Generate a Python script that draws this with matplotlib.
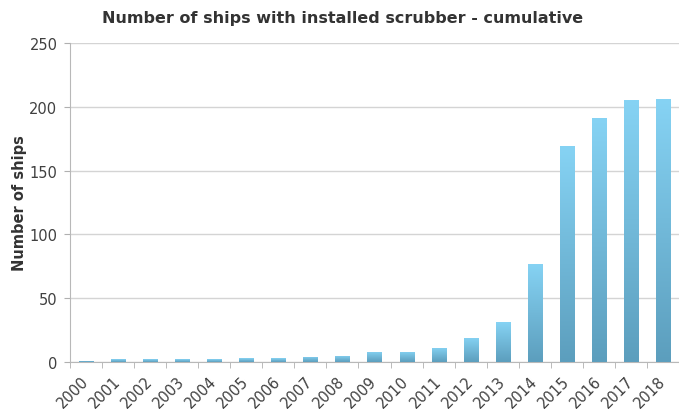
import numpy as np
import matplotlib
matplotlib.use("Agg")
import matplotlib.pyplot as plt
from matplotlib.colors import LinearSegmentedColormap

years = [str(y) for y in range(2000, 2019)]
ships = [1, 2, 2, 2, 2, 3, 3, 4, 5, 8, 8, 11, 19, 31, 77, 169, 191, 205, 206]

TEXT = "#404040"
GRID = "#d4d4d4"

fig = plt.figure(figsize=(6.79, 4.10), dpi=100)
ax = fig.add_axes([70 / 679, 1 - 363 / 410, 609 / 679, 319 / 410])

x = np.arange(len(years))
width = 0.44
bars = ax.bar(x, ships, width=width, color="none", zorder=3)

# vertical gradient per bar, light on top, darker at the base
cmap = LinearSegmentedColormap.from_list("bar", ["#5c9ebd", "#86d3f4"])
grad = np.linspace(0, 1, 256).reshape(-1, 1)
for b in bars:
    x0, y0 = b.get_x(), b.get_y()
    im = ax.imshow(grad, cmap=cmap, origin="lower", aspect="auto",
                   extent=(x0, x0 + b.get_width(), y0, y0 + b.get_height()),
                   zorder=3)
    im.set_clip_path(b)

ax.set_xlim(-0.5, len(years) - 0.5)
ax.set_ylim(0, 250)
ax.set_yticks(range(0, 251, 50))
ax.set_xticks(x)
ax.set_xticklabels(years, rotation=45, ha="right", va="center",
                   rotation_mode="anchor", fontsize=10.5, color=TEXT)
ax.set_xticks(np.arange(-0.5, len(years)), minor=True)
ax.tick_params(axis="x", which="major", length=0, pad=12)
ax.tick_params(axis="x", which="minor", length=4, color="#b0b0b0")
ax.tick_params(axis="y", length=4, color="#b0b0b0", labelsize=10.5,
               labelcolor=TEXT, pad=5)

ax.grid(axis="y", color=GRID, linewidth=1, zorder=0)
for side in ["top", "right"]:
    ax.spines[side].set_visible(False)
for side in ["left", "bottom"]:
    ax.spines[side].set_color("#b8b8b8")

ax.set_ylabel("Number of ships", fontsize=10.5, fontweight="bold",
              color="#333333", labelpad=2)
fig.text(343 / 679, 1 - 19 / 410, "Number of ships with installed scrubber - cumulative",
         ha="center", va="center", fontsize=11.5, fontweight="bold",
         color="#333333")

fig.savefig("out.png", dpi=100)
